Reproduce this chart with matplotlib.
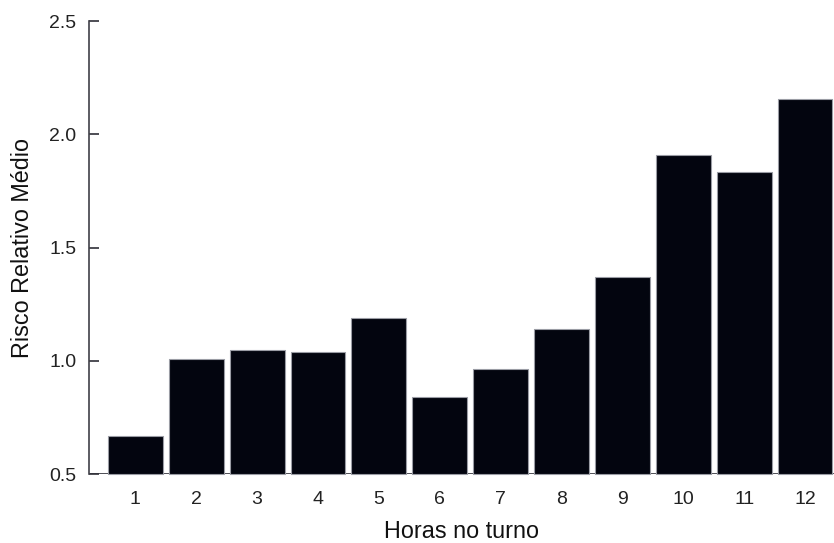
import matplotlib
matplotlib.use("Agg")
import matplotlib.pyplot as plt

# risco relativo médio por hora no turno
horas = [1, 2, 3, 4, 5, 6, 7, 8, 9, 10, 11, 12]
risco = [0.67, 1.01, 1.05, 1.04, 1.19, 0.84, 0.965, 1.14, 1.37, 1.91, 1.835, 2.155]

plt.rcParams['font.family'] = ['Liberation Sans', 'DejaVu Sans']

fig = plt.figure(figsize=(8.34, 5.43), dpi=100)
ax = fig.add_axes([0.1067, 0.127, 0.8933, 0.834])

ax.bar(horas, [r - 0.5 for r in risco], bottom=0.5, width=0.9,
       color='#03050f', edgecolor='#9a9ca4', linewidth=0.8, clip_on=False, zorder=3)
ax.axhline(0.5, color='#303038', linewidth=1.2, zorder=2)

ax.set_xlim(0.238, 12.476)
ax.set_ylim(0.5, 2.5)
ax.set_yticks([0.5, 1.0, 1.5, 2.0, 2.5])
ax.set_yticklabels(['0.5', '1.0', '1.5', '2.0', '2.5'])
ax.set_xticks(horas)

for s in ['top', 'right', 'bottom']:
    ax.spines[s].set_visible(False)
ax.spines['left'].set_bounds(0.5, 2.5)
ax.spines['left'].set_color('#404048')
ax.spines['left'].set_linewidth(1.2)

ax.tick_params(axis='y', direction='in', length=7.5, width=1.2, color='#303038',
               labelsize=14, labelcolor='#222222', pad=9)
ax.tick_params(axis='x', length=0, labelsize=14, labelcolor='#222222', pad=12)

ax.set_xlabel('Horas no turno', fontsize=16.8, color='#111111', labelpad=9)
ax.set_ylabel('Risco Relativo Médio', fontsize=16.8, color='#111111', labelpad=11)

fig.savefig('out.png', dpi=100)
